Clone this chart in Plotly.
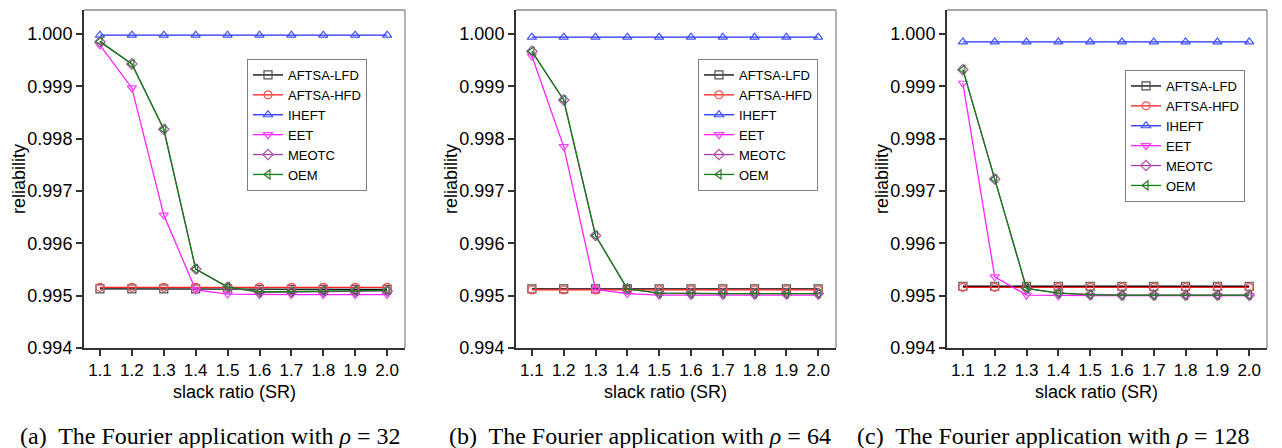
import plotly.graph_objects as go

W, H = 1282, 448

SR = [1.1, 1.2, 1.3, 1.4, 1.5, 1.6, 1.7, 1.8, 1.9, 2.0]
SR_LABELS = ["1.1", "1.2", "1.3", "1.4", "1.5", "1.6", "1.7", "1.8", "1.9", "2.0"]
Y_TICKS = [0.994, 0.995, 0.996, 0.997, 0.998, 0.999, 1.000]
Y_LABELS = ["0.994", "0.995", "0.996", "0.997", "0.998", "0.999", "1.000"]

SERIES = ["AFTSA-LFD", "AFTSA-HFD", "IHEFT", "EET", "MEOTC", "OEM"]

# rho = 32
LFD_32 = [0.99513, 0.99513, 0.99513, 0.99513, 0.99513, 0.99512, 0.99512, 0.99512, 0.99512, 0.99512]
HFD_32 = [0.99516, 0.99516, 0.99516, 0.99516, 0.99516, 0.99516, 0.99516, 0.99516, 0.99516, 0.99516]
IHEFT_32 = [0.99998, 0.99998, 0.99998, 0.99998, 0.99998, 0.99998, 0.99998, 0.99998, 0.99998, 0.99998]
EET_32 = [0.99979, 0.99897, 0.99654, 0.99511, 0.99503, 0.99502, 0.99502, 0.99502, 0.99502, 0.99502]
MEOTC_32 = [0.99985, 0.99943, 0.99818, 0.99551, 0.99516, 0.99507, 0.99507, 0.99508, 0.99508, 0.99509]
OEM_32 = [0.99986, 0.99943, 0.99818, 0.99551, 0.99517, 0.99507, 0.99508, 0.99509, 0.99509, 0.99510]

# rho = 64
LFD_64 = [0.99513, 0.99513, 0.99513, 0.99513, 0.99513, 0.99513, 0.99513, 0.99513, 0.99513, 0.99513]
HFD_64 = [0.99511, 0.99511, 0.99511, 0.99511, 0.99511, 0.99511, 0.99511, 0.99511, 0.99511, 0.99511]
IHEFT_64 = [0.99994, 0.99994, 0.99994, 0.99994, 0.99994, 0.99994, 0.99994, 0.99994, 0.99994, 0.99994]
EET_64 = [0.99958, 0.99785, 0.99512, 0.99504, 0.99501, 0.99501, 0.99501, 0.99501, 0.99501, 0.99501]
MEOTC_64 = [0.99967, 0.99874, 0.99615, 0.99513, 0.99505, 0.99504, 0.99504, 0.99504, 0.99504, 0.99504]
OEM_64 = [0.99967, 0.99874, 0.99615, 0.99513, 0.99505, 0.99504, 0.99504, 0.99504, 0.99504, 0.99504]

# rho = 128
LFD_128 = [0.99518, 0.99518, 0.99518, 0.99518, 0.99518, 0.99518, 0.99518, 0.99518, 0.99518, 0.99518]
HFD_128 = [0.99516, 0.99516, 0.99516, 0.99516, 0.99516, 0.99516, 0.99516, 0.99516, 0.99516, 0.99516]
IHEFT_128 = [0.99985, 0.99985, 0.99985, 0.99985, 0.99985, 0.99985, 0.99985, 0.99985, 0.99985, 0.99985]
EET_128 = [0.99906, 0.99536, 0.99501, 0.99500, 0.99500, 0.99500, 0.99500, 0.99500, 0.99500, 0.99500]
MEOTC_128 = [0.99932, 0.99723, 0.99514, 0.99505, 0.99502, 0.99501, 0.99501, 0.99501, 0.99501, 0.99501]
OEM_128 = [0.99932, 0.99723, 0.99514, 0.99505, 0.99502, 0.99501, 0.99501, 0.99501, 0.99501, 0.99501]

CAPTIONS = [
    "(a)  The Fourier application with <i>ρ</i> = 32",
    "(b)  The Fourier application with <i>ρ</i> = 64",
    "(c)  The Fourier application with <i>ρ</i> = 128",
]

PANEL_DATA = [
    [LFD_32, HFD_32, IHEFT_32, EET_32, MEOTC_32, OEM_32],
    [LFD_64, HFD_64, IHEFT_64, EET_64, MEOTC_64, OEM_64],
    [LFD_128, HFD_128, IHEFT_128, EET_128, MEOTC_128, OEM_128],
]

LINE_COLORS = ["#000000", "#ff2020", "#2030ff", "#ff20ff", "#a040a0", "#108010"]
MARKER_COLORS = ["#505050", "#ff5050", "#4050ff", "#ff40ff", "#b050b0", "#307830"]
SYMBOLS = ["square-open", "circle-open", "triangle-up-open", "triangle-down-open",
           "diamond-open", "triangle-left-open"]

# layout geometry (pixels)
PANELS = [(84, 405), (516, 836), (947, 1267)]
TOP, BOTTOM = 10, 348
LEGEND_POS = [(247, 59), (698, 59), (1125, 70)]
CAPTION_X = [210, 640, 1053]
XTITLE_X = [234, 665, 1096]

SANS = "Liberation Sans, Arial, sans-serif"
SERIF = "Liberation Serif, Times New Roman, serif"

fig = go.Figure()

for p, data in enumerate(PANEL_DATA):
    sfx = "" if p == 0 else str(p + 1)
    for s, name in enumerate(SERIES):
        fig.add_trace(go.Scatter(
            x=SR, y=data[s], name=name, mode="lines+markers",
            xaxis="x" + sfx, yaxis="y" + sfx,
            legend="legend" + sfx,
            line=dict(color=LINE_COLORS[s], width=1.3),
            marker=dict(symbol=SYMBOLS[s], size=8, color=MARKER_COLORS[s],
                        line=dict(width=1.2, color=MARKER_COLORS[s])),
        ))

layout = dict(
    width=W, height=H,
    margin=dict(l=0, r=0, t=0, b=0),
    paper_bgcolor="white", plot_bgcolor="white",
    font=dict(family=SANS, color="#000000"),
    showlegend=True,
    annotations=[], shapes=[],
)

ydom = [1 - BOTTOM / H, 1 - TOP / H]
for p, (l, r) in enumerate(PANELS):
    sfx = "" if p == 0 else str(p + 1)
    layout["xaxis" + sfx] = dict(
        domain=[l / W, r / W], anchor="y" + sfx, range=[1.05, 2.056],
        tickvals=SR, ticktext=SR_LABELS, ticks="outside", ticklen=6, tickwidth=1.5,
        tickcolor="#333333", showline=True, linecolor="#333333", linewidth=2,
        showgrid=False, zeroline=False, tickfont=dict(size=17, family=SANS),
        automargin=False,
    )
    layout["yaxis" + sfx] = dict(
        domain=ydom, anchor="x" + sfx, range=[0.994, 1.00046],
        tickvals=Y_TICKS, ticktext=Y_LABELS, ticks="outside", ticklen=6, tickwidth=1.5,
        tickcolor="#333333", showline=True, linecolor="#333333", linewidth=2,
        showgrid=False, zeroline=False, tickfont=dict(size=18, family=SANS),
        automargin=False,
    )
    lx, ly = LEGEND_POS[p]
    layout["legend" + sfx] = dict(
        x=lx / W, y=1 - ly / H, xanchor="left", yanchor="top",
        bordercolor="#808080", borderwidth=1, bgcolor="white",
        font=dict(size=13, family=SANS, color="#000000"),
        tracegroupgap=0,
    )
    xr = "x" + sfx + " domain"
    yr = "y" + sfx + " domain"
    layout["shapes"] += [
        dict(type="line", xref=xr, yref=yr, x0=0, x1=1, y0=1, y1=1,
             line=dict(color="#8a8a8a", width=1.3)),
        dict(type="line", xref=xr, yref=yr, x0=1, x1=1, y0=0, y1=1,
             line=dict(color="#8a8a8a", width=1.3)),
    ]
    layout["annotations"] += [
        dict(text="slack ratio (SR)", xref="paper", yref="paper",
             x=XTITLE_X[p] / W, y=1 - 392 / H, xanchor="center", yanchor="middle",
             showarrow=False, font=dict(size=18, family=SANS)),
        dict(text="reliability", xref="paper", yref="paper",
             x=(l - 65) / W, y=1 - 179 / H, xanchor="center", yanchor="middle",
             textangle=-90, showarrow=False, font=dict(size=18, family=SANS)),
        dict(text=CAPTIONS[p], xref="paper", yref="paper",
             x=CAPTION_X[p] / W, y=1 - 436 / H, xanchor="center", yanchor="middle",
             showarrow=False, font=dict(size=24, family=SERIF)),
    ]

fig.update_layout(**layout)
fig.write_html("out.html")
